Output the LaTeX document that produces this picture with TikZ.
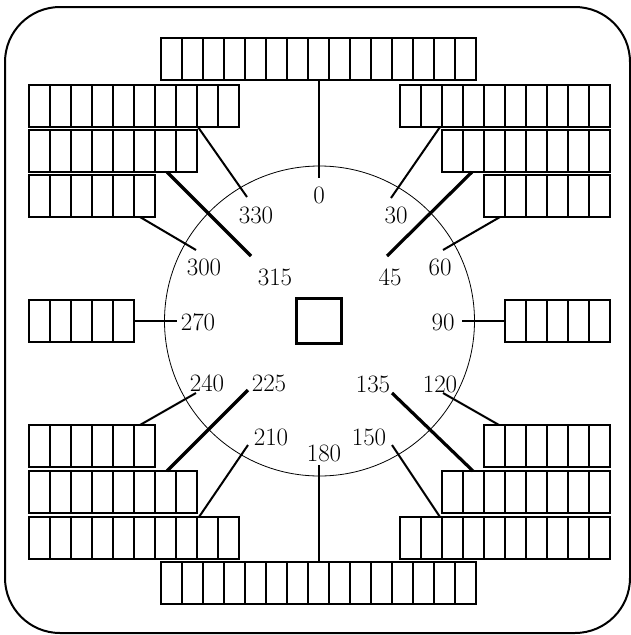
\documentclass[tikz,border=0pt]{standalone}
\usetikzlibrary{calc}
\newcommand{\cellbar}[4]{%
  \node[bar, minimum width=#4*21pt] (#1) at (#2,#3) {};
  \foreach \k in {1,...,#4}
    \draw[cell] ([xshift=\k*21pt]#1.north west) -- ([xshift=\k*21pt]#1.south west);
}
\begin{document}
\begin{tikzpicture}[x=1pt, y=-1pt,
    bar/.style={draw, line width=2pt, inner sep=0pt, outer sep=0pt,
                minimum height=42pt, anchor=north west},
    cell/.style={line width=2pt},
    lead/.style={line width=2pt},
    heavy/.style={line width=3.2pt},
    deg/.style={font=\fontsize{25}{28}\selectfont, inner sep=0pt}
  ]
  \useasboundingbox (0,0) rectangle (630,635);
  \draw[line width=2pt, rounded corners=55pt] (5,7) rectangle (630,633);

  % dial and hub
  \node[draw, circle, line width=0.8pt, minimum size=310pt, inner sep=0pt] (dial) at (319.5,321) {};
  \node[draw, line width=3.5pt, minimum size=45pt, inner sep=0pt] (hub) at (319,321) {};

  % cell bars
  \cellbar{top}{161}{38}{15}
  \cellbar{L1}{29}{85}{10}
  \cellbar{L2}{29}{130}{8}
  \cellbar{L3}{29}{175}{6}
  \cellbar{R1}{400}{85}{10}
  \cellbar{R2}{442}{130}{8}
  \cellbar{R3}{484}{175}{6}
  \cellbar{L270}{29}{300}{5}
  \cellbar{R90}{505}{300}{5}
  \cellbar{L240}{29}{425}{6}
  \cellbar{L225}{29}{471}{8}
  \cellbar{L210}{29}{517}{10}
  \cellbar{R120}{484}{425}{6}
  \cellbar{R135}{442}{471}{8}
  \cellbar{R150}{400}{517}{10}
  \cellbar{bot}{161}{562}{15}

  % angle labels
  \node[deg] (d0) at (319,195) {0};
  \node[deg] (d30) at (396,215) {30};
  \node[deg] (d45) at (390,277) {45};
  \node[deg] (d60) at (440,267) {60};
  \node[deg] (d90) at (443,322) {90};
  \node[deg] (d120) at (440,384) {120};
  \node[deg] (d135) at (373,384) {135};
  \node[deg] (d150) at (369,437) {150};
  \node[deg] (d180) at (324,453) {180};
  \node[deg] (d210) at (271,437) {210};
  \node[deg] (d225) at (269,383) {225};
  \node[deg] (d240) at (207,383) {240};
  \node[deg] (d270) at (198,322) {270};
  \node[deg] (d300) at (204,267) {300};
  \node[deg] (d315) at (275,277) {315};
  \node[deg] (d330) at (256,215) {330};

  % lead ends
  \coordinate (e0) at (318.5,178);
  \coordinate (e30) at (391,198);
  \coordinate (e45) at (387,256);
  \coordinate (e60) at (443,250);
  \coordinate (e90) at (462,321);
  \coordinate (e120) at (443,393);
  \coordinate (e135) at (392,393);
  \coordinate (e150) at (392,445);
  \coordinate (e180) at (318.5,465);
  \coordinate (e210) at (248,445);
  \coordinate (e225) at (248,390);
  \coordinate (e240) at (196,393);
  \coordinate (e270) at (177,321);
  \coordinate (e300) at (196,250);
  \coordinate (e315) at (251,256);
  \coordinate (e330) at (247,197);

  % leads
  \draw[lead] (top.south) -- (e0);
  \draw[lead] ([xshift=169pt]L1.south west) -- (e330);
  \draw[heavy] ([xshift=138pt]L2.south west) -- (e315);
  \draw[lead] ([xshift=111pt]L3.south west) -- (e300);
  \draw[lead] ([xshift=40pt]R1.south west) -- (e30);
  \draw[heavy] ([xshift=30pt]R2.south west) -- (e45);
  \draw[lead] ([xshift=16pt]R3.south west) -- (e60);
  \draw[lead] (L270.east) -- (e270);
  \draw[lead] (R90.west) -- (e90);
  \draw[lead] ([xshift=111pt]L240.north west) -- (e240);
  \draw[heavy] ([xshift=138pt]L225.north west) -- (e225);
  \draw[lead] ([xshift=170pt]L210.north west) -- (e210);
  \draw[lead] (bot.north) -- (e180);
  \draw[heavy] ([xshift=31pt]R135.north west) -- (e135);
  \draw[lead] ([xshift=15pt]R120.north west) -- (e120);
  \draw[lead] ([xshift=40pt]R150.north west) -- (e150);
\end{tikzpicture}
\end{document}
